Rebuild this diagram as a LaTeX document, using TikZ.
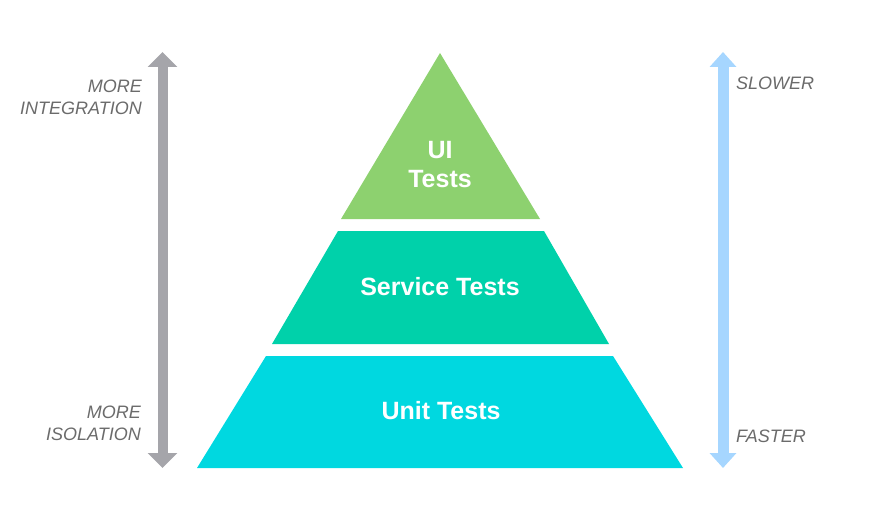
\documentclass[tikz,border=0pt]{standalone}
\usepackage{fontspec}
\setmainfont{Liberation Sans}
\usetikzlibrary{arrows.meta}

\definecolor{uigreen}{HTML}{8DD16F}
\definecolor{servicegreen}{HTML}{00D1AA}
\definecolor{unitcyan}{HTML}{00D8E0}
\definecolor{scalegray}{HTML}{A5A5AA}
\definecolor{scaleblue}{HTML}{A6D6FF}
\definecolor{labelgray}{HTML}{6B6B6B}

\tikzset{
    layername/.style={text=white, inner sep=0pt, align=center, font=\fontsize{25}{29}\selectfont\bfseries},
    sidelabel/.style={text=labelgray, inner sep=0pt, font=\fontsize{18}{21.5}\selectfont\itshape},
}

\begin{document}
\begin{tikzpicture}[x=1pt, y=-1pt]
    \useasboundingbox (0,0) rectangle (872,524);

    % Pyramid layers
    \fill[uigreen] (440,53) -- (540,219) -- (341,219) -- cycle;
    \fill[servicegreen] (338,231) -- (544,231) -- (609,344) -- (272,344) -- cycle;
    \fill[unitcyan] (266,356) -- (613,356) -- (683,468) -- (197,468) -- cycle;

    % Layer names
    \node[layername] (ui) at (440,165) {UI\\Tests};
    \node[layername] (service) at (440,287) {Service Tests};
    \node[layername] (unit) at (441,411) {Unit Tests};

    % Integration / isolation scale
    \coordinate (grayTop) at (162.5,52);
    \coordinate (grayBot) at (162.5,468);
    \draw[scalegray, line width=10pt, {Triangle[width=29pt,length=15pt]}-{Triangle[width=29pt,length=15pt]}] (grayTop) -- (grayBot);
    \node[sidelabel, align=right, anchor=east] (integration) at (142,97.5) {MORE\\INTEGRATION};
    \node[sidelabel, align=right, anchor=east] (isolation) at (141,423.5) {MORE\\ISOLATION};

    % Speed scale
    \coordinate (blueTop) at (723,52);
    \coordinate (blueBot) at (723,468);
    \draw[scaleblue, line width=11pt, {Triangle[width=26pt,length=15pt]}-{Triangle[width=26pt,length=15pt]}] (blueTop) -- (blueBot);
    \node[sidelabel, anchor=west] (slower) at (736,83) {SLOWER};
    \node[sidelabel, anchor=west] (faster) at (736,436) {FASTER};
\end{tikzpicture}
\end{document}
